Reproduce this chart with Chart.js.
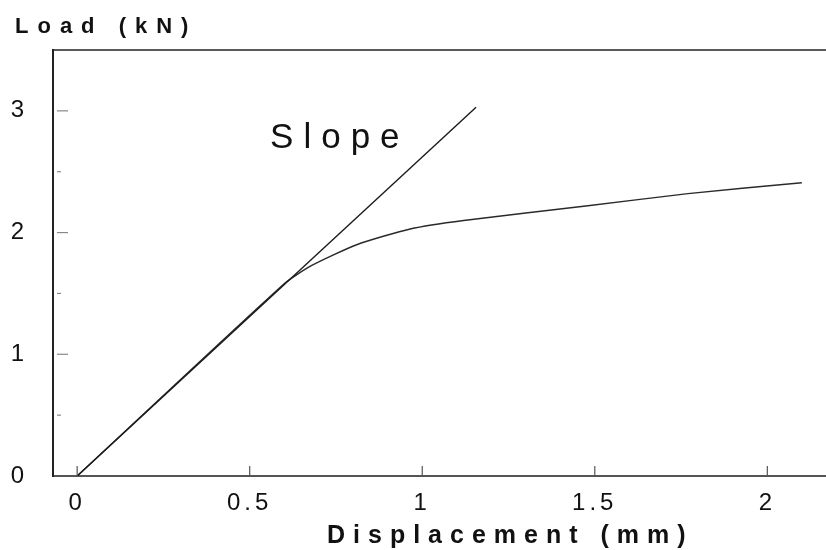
<!DOCTYPE html>
<html>
<head>
<meta charset="utf-8">
<script src="https://cdn.jsdelivr.net/npm/chart.js@4.4.1/dist/chart.umd.min.js"></script>
<style>
  html, body { margin: 0; padding: 0; background: #fff; }
</style>
</head>
<body>
<canvas id="loadChart" width="826" height="550"></canvas>
<script>
// measured curve (displacement mm -> load kN)
const curveX = [0, 0.60, 0.68, 0.81, 0.965, 1.12, 1.48, 1.77, 2.10];
const curveY = [0, 1.58, 1.73, 1.90, 2.03, 2.10, 2.22, 2.32, 2.41];

// initial slope line
const slopeX = [0, 1.156];
const slopeY = [0, 3.03];

const xTicks = [0, 0.5, 1, 1.5, 2];
const xTickLabels = ["0", "0.5", "1", "1.5", "2"];
const yTicks = [0, 1, 2, 3];
const yTickLabels = ["0", "1", "2", "3"];
const yMinor = [0.5, 1.5, 2.5];

const slopeLabel = { text: "Slope", x: 0.559, y: 2.695 };

function toPoints(xs, ys) {
  return xs.map((x, i) => ({ x, y: ys[i] }));
}

function spacedText(ctx, txt, x, y, font, spacing) {
  ctx.save();
  ctx.font = font;
  ctx.fillStyle = "#111";
  ctx.textAlign = "left";
  ctx.textBaseline = "alphabetic";
  ctx.letterSpacing = spacing + "px";
  ctx.fillText(txt, x, y);
  ctx.restore();
}

// ticks spacing + frame + titles
const decor = {
  id: "decor",
  beforeDraw(chart) {
    chart.ctx.letterSpacing = "4px";
  },
  afterDraw(chart) {
    const ctx = chart.ctx;
    const { left, right, top, bottom } = chart.chartArea;
    const xs = chart.scales.x, ys = chart.scales.y;
    ctx.letterSpacing = "0px";

    ctx.save();
    // top frame line
    ctx.strokeStyle = "#222";
    ctx.lineWidth = 1.5;
    ctx.beginPath();
    ctx.moveTo(left, top);
    ctx.lineTo(right, top);
    ctx.stroke();

    // inward tick marks
    ctx.strokeStyle = "#888";
    ctx.lineWidth = 1.2;
    yTicks.forEach(v => {
      if (v === 0) return;
      const py = ys.getPixelForValue(v);
      ctx.beginPath();
      ctx.moveTo(left + 4, py);
      ctx.lineTo(left + 15, py);
      ctx.stroke();
    });
    yMinor.forEach(v => {
      const py = ys.getPixelForValue(v);
      ctx.beginPath();
      ctx.moveTo(left + 4, py);
      ctx.lineTo(left + 8, py);
      ctx.stroke();
    });
    ctx.strokeStyle = "#555";
    xTicks.forEach(v => {
      const px = xs.getPixelForValue(v);
      ctx.beginPath();
      ctx.moveTo(px, bottom);
      ctx.lineTo(px, bottom - 10);
      ctx.stroke();
    });
    ctx.restore();

    spacedText(ctx, "Load (kN)", 15, 33, "bold 22px 'Liberation Sans', Arial, sans-serif", 9);
    spacedText(ctx, "Displacement (mm)", 327, 543, "bold 25px 'Liberation Sans', Arial, sans-serif", 8);
    spacedText(ctx, slopeLabel.text, xs.getPixelForValue(slopeLabel.x), ys.getPixelForValue(slopeLabel.y),
      "35px 'Liberation Sans', Arial, sans-serif", 10);
  }
};

new Chart(document.getElementById("loadChart").getContext("2d"), {
  type: "scatter",
  data: {
    datasets: [
      {
        label: "Slope",
        data: toPoints(slopeX, slopeY),
        showLine: true,
        borderColor: "#1a1a1a",
        borderWidth: 1.4,
        pointRadius: 0,
        tension: 0
      },
      {
        label: "Load",
        data: toPoints(curveX, curveY),
        showLine: true,
        borderColor: "#2a2a2a",
        borderWidth: 1.5,
        pointRadius: 0,
        tension: 0.2
      }
    ]
  },
  options: {
    responsive: false,
    animation: false,
    layout: { padding: { top: 50, right: 0, left: 0, bottom: 0 } },
    plugins: {
      legend: { display: false },
      tooltip: { enabled: false }
    },
    scales: {
      x: {
        type: "linear",
        min: -0.07,
        max: 2.17,
        afterFit: s => { s.height = 74; },
        afterBuildTicks: s => { s.ticks = xTicks.map(v => ({ value: v })); },
        border: { display: true, color: "#555", width: 2 },
        grid: { display: false, drawTicks: false },
        ticks: {
          padding: 13,
          color: "#111",
          font: { family: "'Liberation Sans', Arial, sans-serif", size: 24 },
          maxRotation: 0,
          callback: v => xTickLabels[xTicks.indexOf(v)]
        }
      },
      y: {
        type: "linear",
        min: 0,
        max: 3.5,
        afterFit: s => { s.width = 53; },
        afterBuildTicks: s => { s.ticks = yTicks.map(v => ({ value: v })); },
        border: { display: true, color: "#222", width: 2 },
        grid: { display: false, drawTicks: false },
        ticks: {
          padding: 25,
          color: "#111",
          font: { family: "'Liberation Sans', Arial, sans-serif", size: 24 },
          callback: v => yTickLabels[yTicks.indexOf(v)]
        }
      }
    }
  },
  plugins: [decor]
});
</script>
</body>
</html>
